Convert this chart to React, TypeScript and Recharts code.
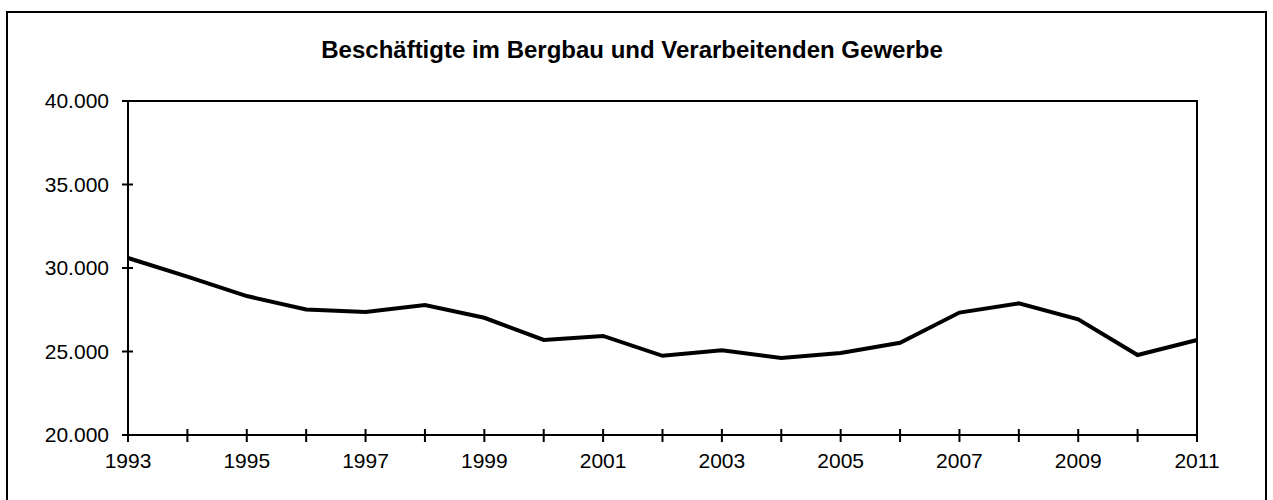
import React from 'react';
import { LineChart, Line, XAxis, YAxis, ReferenceArea } from 'recharts';

// Beschäftigte im Bergbau und Verarbeitenden Gewerbe, 1993-2011
const years = [1993, 1994, 1995, 1996, 1997, 1998, 1999, 2000, 2001, 2002, 2003, 2004, 2005, 2006, 2007, 2008, 2009, 2010, 2011];
const employees = [30600, 29480, 28320, 27520, 27370, 27780, 27020, 25690, 25930, 24740, 25070, 24610, 24910, 25520, 27330, 27880, 26930, 24790, 25690];
const yTicks = [20000, 25000, 30000, 35000, 40000];
const labeledYears = [1993, 1995, 1997, 1999, 2001, 2003, 2005, 2007, 2009, 2011];

const title = 'Beschäftigte im Bergbau und Verarbeitenden Gewerbe';

const data = years.map((year, i) => ({ year, value: employees[i] }));

const FONT = '"Liberation Sans", Arial, sans-serif';

// 40000 -> "40.000"
const fmt = (v: number) => (v / 1000).toFixed(3);

const YTick = ({ x, y, payload }: any) => (
  <g>
    <line x1={x - 6} x2={x + 5} y1={y} y2={y} stroke="#000" strokeWidth={2} />
    <text x={x - 19} y={y} dy="0.355em" textAnchor="end" fontSize={21} fontFamily={FONT} fill="#000">
      {fmt(payload.value)}
    </text>
  </g>
);

const XTick = ({ x, y, payload }: any) => (
  <g>
    <line x1={x} x2={x} y1={y - 6} y2={y + 7} stroke="#000" strokeWidth={2} />
    {labeledYears.includes(payload.value) && (
      <text x={x} y={y + 33} textAnchor="middle" fontSize={21} fontFamily={FONT} fill="#000">
        {payload.value}
      </text>
    )}
  </g>
);

export default function App() {
  return (
    <div style={{ position: 'fixed', left: 0, top: 0, width: 1273, height: 500, overflow: 'hidden', background: '#fff' }}>
      <div
        style={{
          position: 'absolute',
          left: 6,
          top: 11,
          width: 1261,
          height: 520,
          border: '2px solid #000',
          boxSizing: 'border-box',
        }}
      />
      <svg style={{ position: 'absolute', left: 0, top: 0 }} width={1273} height={80}>
        <text x={632} y={58} textAnchor="middle" fontSize={24} fontWeight="bold" fontFamily={FONT} fill="#000">
          {title}
        </text>
      </svg>
      <div style={{ position: 'absolute', left: 0, top: 0 }}>
        <LineChart width={1273} height={500} data={data} margin={{ top: 101, right: 76, bottom: 25, left: 68 }}>
          <XAxis
            dataKey="year"
            type="number"
            domain={[1993, 2011]}
            ticks={years}
            interval={0}
            height={40}
            tickSize={0}
            tickMargin={0}
            tickLine={false}
            axisLine={{ stroke: '#000', strokeWidth: 2 }}
            tick={<XTick />}
          />
          <YAxis
            type="number"
            domain={[20000, 40000]}
            ticks={yTicks}
            interval={0}
            width={60}
            tickSize={0}
            tickMargin={0}
            tickLine={false}
            axisLine={{ stroke: '#000', strokeWidth: 2 }}
            tick={<YTick />}
          />
          <ReferenceArea x1={1993} x2={2011} y1={20000} y2={40000} fill="none" stroke="#000" strokeWidth={2} />
          <Line
            type="linear"
            dataKey="value"
            stroke="#000"
            strokeWidth={4}
            dot={false}
            isAnimationActive={false}
          />
        </LineChart>
      </div>
    </div>
  );
}
